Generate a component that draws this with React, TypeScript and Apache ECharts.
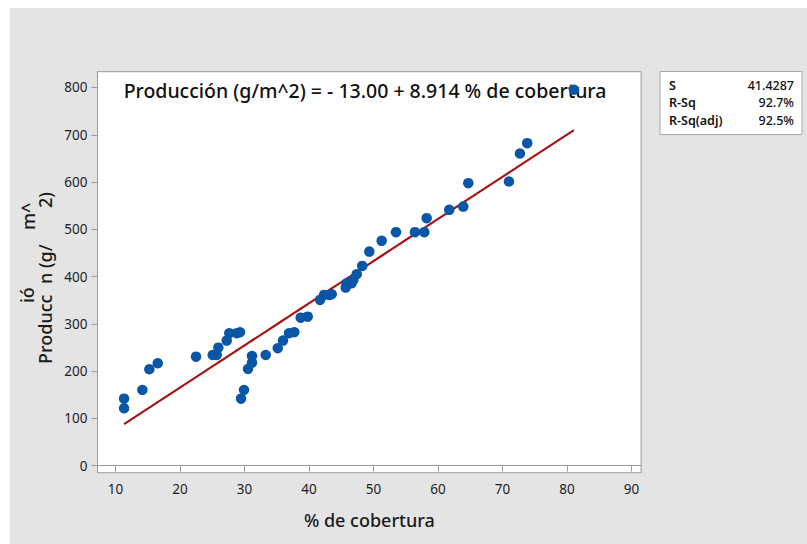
import React, { useEffect, useRef } from "react";
import * as echarts from "echarts";

const coverage = [
  11.32, 11.32, 14.16, 15.24, 16.54, 22.48, 25.07, 25.69, 25.94, 27.24, 27.64, 28.79,
  29.3, 29.46, 29.92, 30.54, 31.16, 31.16, 33.29, 35.15, 35.97, 36.9, 37.72, 38.71,
  39.8, 41.71, 42.33, 43.15, 43.52, 45.69, 45.84, 46.62, 46.87, 47.4, 48.26, 49.35,
  51.27, 53.49, 56.43, 57.88, 58.25, 61.75, 63.92, 64.7, 71.01, 72.71, 73.84, 81.09,
];
const production = [
  141.8, 121.5, 160.2, 204.0, 216.7, 230.7, 234.3, 234.3, 249.7, 264.6, 280.2, 280.2,
  282.3, 141.8, 160.2, 204.7, 218.0, 232.2, 234.3, 248.5, 264.6, 280.2, 282.3, 313.2,
  315.3, 350.7, 361.3, 361.3, 362.8, 376.7, 386.0, 386.0, 393.0, 405.1, 422.6, 452.9,
  475.6, 494.0, 494.0, 494.0, 523.6, 541.2, 548.1, 597.7, 601.1, 660.3, 682.3, 795.1,
];
const intercept = -13.0;
const slope = 8.914;
const xTicks = [10, 20, 30, 40, 50, 60, 70, 80, 90];
const yTicks = [0, 100, 200, 300, 400, 500, 600, 700, 800];
const statLabels = ["S", "R-Sq", "R-Sq(adj)"];
const statValues = ["41.4287", "92.7%", "92.5%"];
const titleText = "Producción (g/m^2) = - 13.00 + 8.914 % de cobertura";
const xTitle = "% de cobertura";

const FONT = "'Noto Sans', 'Open Sans', sans-serif";

export default function App() {
  const ref = useRef<HTMLDivElement>(null);
  useEffect(() => {
    if (!ref.current) return;
    const chart = echarts.init(ref.current, null, { renderer: "svg" });
    const points = coverage.map((x, i) => [x, production[i]]);
    const sortedX = [...coverage].sort((a, b) => a - b);
    const fit = sortedX.map((x) => [x, intercept + slope * x]);

    const gridLeft = 97.5;
    const gridTop = 71.7;
    const gridRight = 641.1;
    const gridBottom = 472.7;
    const axisColor = "#9a9a9a";
    const labelColor = "#1e1e1e";

    const yLabelStyle = { fontSize: 18, fontFamily: FONT, fontWeight: 500, fill: "#1a1a1a" };

    chart.setOption({
      animation: false,
      backgroundColor: "#ffffff",
      textStyle: { fontFamily: FONT },
      grid: {
        left: gridLeft,
        top: gridTop,
        width: gridRight - gridLeft,
        height: gridBottom - gridTop,
        show: true,
        backgroundColor: "#ffffff",
        borderColor: axisColor,
        borderWidth: 1,
        containLabel: false,
        outerBoundsMode: "none",
      },
      xAxis: {
        type: "value",
        min: 7.2,
        max: 91.5,
        name: xTitle,
        nameLocation: "middle",
        nameGap: 38,
        nameTextStyle: { fontSize: 18, fontWeight: 500, color: "#1a1a1a", fontFamily: FONT },
        axisLine: { show: true, lineStyle: { color: axisColor } },
        axisTick: { show: true, length: 6, lineStyle: { color: axisColor }, customValues: xTicks },
        axisLabel: { customValues: xTicks, fontSize: 13.5, color: labelColor, margin: 9, fontFamily: FONT },
        splitLine: { show: false },
      },
      yAxis: {
        type: "value",
        min: -14.8,
        max: 833.4,
        axisLine: { show: true, lineStyle: { color: axisColor } },
        axisTick: { show: true, length: 6, lineStyle: { color: axisColor }, customValues: yTicks },
        axisLabel: { customValues: yTicks, fontSize: 13.5, color: labelColor, margin: 10, fontFamily: FONT },
        splitLine: { show: false },
      },
      graphic: [
        {
          type: "rect",
          z: -10,
          zlevel: 0,
          silent: true,
          shape: { x: 10, y: 8, width: 797, height: 536 },
          style: { fill: "#e4e4e4" },
        },
        {
          type: "text",
          z: 2,
          x: 365,
          y: 90,
          style: {
            text: titleText,
            fontSize: 19.5,
            fontWeight: 500,
            fontFamily: FONT,
            fill: "#111111",
            textAlign: "center",
            textVerticalAlign: "middle",
          },
        },
        {
          type: "rect",
          shape: { x: 660, y: 71.5, width: 142, height: 63 },
          style: { fill: "#ffffff", stroke: "#a8a8a8", lineWidth: 1 },
        },
        ...statLabels.map((t, i) => ({
          type: "text",
          x: 669,
          y: 85 + i * 17.5,
          style: {
            text: t,
            fontSize: 12.5,
            fontWeight: 600,
            fontFamily: FONT,
            fill: "#111111",
            textAlign: "left",
            textVerticalAlign: "middle",
          },
        })),
        ...statValues.map((t, i) => ({
          type: "text",
          x: 794,
          y: 85 + i * 17.5,
          style: {
            text: t,
            fontSize: 12.5,
            fontWeight: 500,
            fontFamily: FONT,
            fill: "#111111",
            textAlign: "right",
            textVerticalAlign: "middle",
          },
        })),
        // broken y-axis title, as drawn in the reference
        {
          type: "text",
          x: 45,
          y: 364,
          rotation: Math.PI / 2,
          style: { ...yLabelStyle, text: "Producc", textAlign: "left", textVerticalAlign: "middle" },
        },
        {
          type: "text",
          x: 27,
          y: 303,
          rotation: Math.PI / 2,
          style: { ...yLabelStyle, text: "ió", textAlign: "left", textVerticalAlign: "middle" },
        },
        {
          type: "text",
          x: 45,
          y: 284,
          rotation: Math.PI / 2,
          style: { ...yLabelStyle, text: "n (g/", textAlign: "left", textVerticalAlign: "middle" },
        },
        {
          type: "text",
          x: 28,
          y: 230,
          rotation: Math.PI / 2,
          style: { ...yLabelStyle, text: "m^", textAlign: "left", textVerticalAlign: "middle" },
        },
        {
          type: "text",
          x: 45,
          y: 208,
          rotation: Math.PI / 2,
          style: { ...yLabelStyle, text: "2)", textAlign: "left", textVerticalAlign: "middle" },
        },
      ],
      series: [
        {
          type: "line",
          data: fit,
          showSymbol: false,
          symbol: "none",
          lineStyle: { color: "#a31515", width: 2.2 },
          z: 3,
          silent: true,
        },
        {
          type: "scatter",
          data: points,
          symbol: "circle",
          symbolSize: 10.5,
          itemStyle: { color: "#0a56a6", opacity: 1 },
          z: 4,
        },
      ],
    });
    return () => chart.dispose();
  }, []);
  return (
    <div
      ref={ref}
      style={{ position: "absolute", left: 0, top: 0, width: 807, height: 544 }}
    />
  );
}
